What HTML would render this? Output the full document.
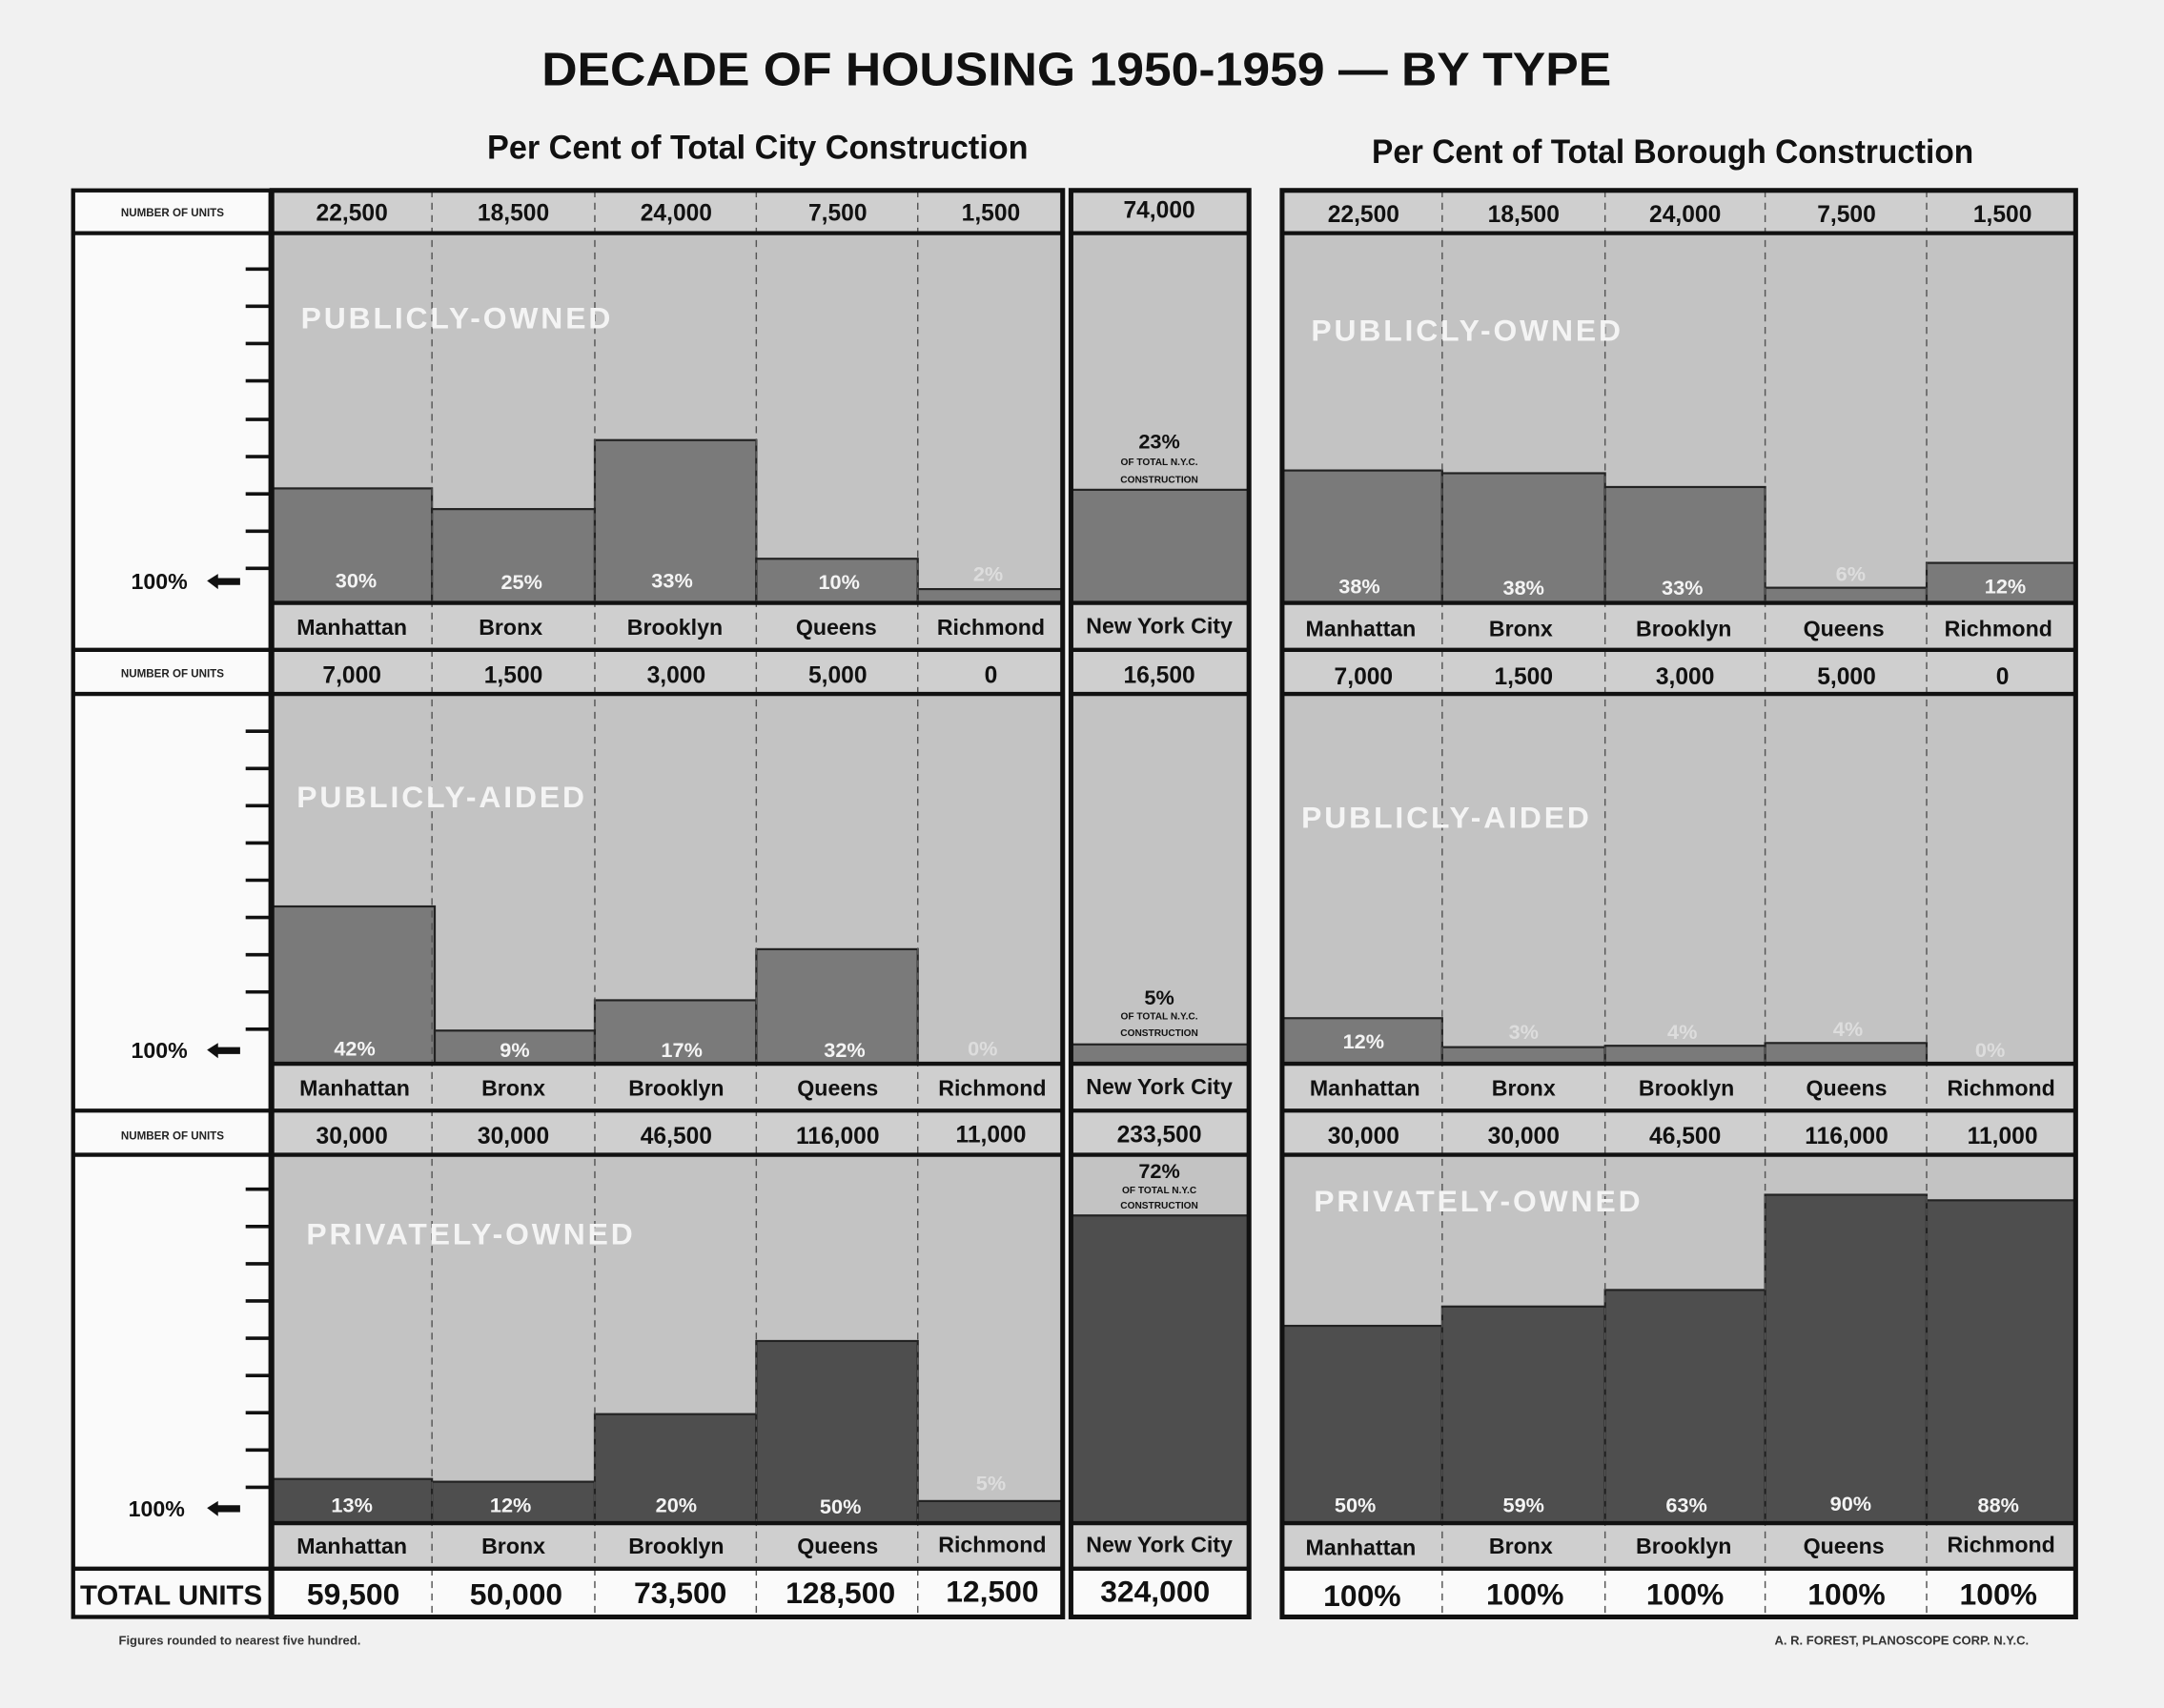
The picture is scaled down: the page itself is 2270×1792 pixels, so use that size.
<!DOCTYPE html>
<html><head><meta charset="utf-8"><style>
html,body{margin:0;padding:0;background:#f0f0f0;}
svg{display:block;}
text{font-family:"Liberation Sans",sans-serif;font-weight:bold;}
</style></head><body>
<svg width="2270" height="1792" viewBox="0 0 1568 1238" preserveAspectRatio="none" xmlns="http://www.w3.org/2000/svg">
<rect width="1568" height="1238" fill="#f1f1f1"/>
<text x="780" y="62" font-size="34" text-anchor="middle" fill="#111" textLength="775" lengthAdjust="spacingAndGlyphs">DECADE OF HOUSING 1950-1959 — BY TYPE</text>
<text x="549" y="115" font-size="24" text-anchor="middle" fill="#111" textLength="392" lengthAdjust="spacingAndGlyphs">Per Cent of Total City Construction</text>
<text x="1212" y="118" font-size="24" text-anchor="middle" fill="#111" textLength="436" lengthAdjust="spacingAndGlyphs">Per Cent of Total Borough Construction</text>

<!-- left label column -->
<rect x="53" y="138" width="143" height="1034" fill="#fafafa" stroke="#111" stroke-width="3"/>
<g stroke="#111" stroke-width="3">
<line x1="53" y1="169" x2="196" y2="169"/><line x1="53" y1="471" x2="196" y2="471"/>
<line x1="53" y1="503" x2="196" y2="503"/><line x1="53" y1="805" x2="196" y2="805"/>
<line x1="53" y1="837" x2="196" y2="837"/><line x1="53" y1="1137" x2="196" y2="1137"/>
</g>
<g font-size="8" fill="#222" text-anchor="middle">
<text x="125" y="157">NUMBER OF UNITS</text><text x="125" y="491">NUMBER OF UNITS</text><text x="125" y="826">NUMBER OF UNITS</text>
</g>
<g stroke="#111" stroke-width="2.5">
<path d="M178 195h18M178 222h18M178 249h18M178 276h18M178 304h18M178 331h18M178 358h18M178 385h18M178 412h18"/>
<path d="M178 530h18M178 557h18M178 584h18M178 611h18M178 638h18M178 665h18M178 692h18M178 719h18M178 746h18"/>
<path d="M178 862h18M178 889h18M178 916h18M178 943h18M178 970h18M178 997h18M178 1024h18M178 1051h18M178 1078h18"/>
</g>
<g font-size="16" fill="#111">
<text x="95" y="427">100%</text><text x="95" y="767">100%</text><text x="93" y="1099">100%</text>
</g>
<g fill="#111">
<path d="M150 421l8-5v3h16v5h-16v3z"/><path d="M150 761l8-5v3h16v5h-16v3z"/><path d="M150 1093l8-5v3h16v5h-16v3z"/>
</g>
<text x="124" y="1163" font-size="20" text-anchor="middle" fill="#111" textLength="132" lengthAdjust="spacingAndGlyphs">TOTAL UNITS</text>

<!-- blocks -->
<g id="blocks">
<!-- left boroughs block background -->
<rect x="197" y="138" width="573" height="1034" fill="#c3c3c3"/>
<rect x="776" y="138" width="129" height="1034" fill="#c3c3c3"/>
<rect x="929" y="138" width="575" height="1034" fill="#c3c3c3"/>
<!-- number rows & label rows lighter -->
<g fill="#cfcfcf">
<rect x="197" y="138" width="573" height="31"/><rect x="776" y="138" width="129" height="31"/><rect x="929" y="138" width="575" height="31"/>
<rect x="197" y="437" width="573" height="34"/><rect x="776" y="437" width="129" height="34"/><rect x="929" y="437" width="575" height="34"/>
<rect x="197" y="471" width="573" height="32"/><rect x="776" y="471" width="129" height="32"/><rect x="929" y="471" width="575" height="32"/>
<rect x="197" y="771" width="573" height="34"/><rect x="776" y="771" width="129" height="34"/><rect x="929" y="771" width="575" height="34"/>
<rect x="197" y="805" width="573" height="32"/><rect x="776" y="805" width="129" height="32"/><rect x="929" y="805" width="575" height="32"/>
<rect x="197" y="1104" width="573" height="33"/><rect x="776" y="1104" width="129" height="33"/><rect x="929" y="1104" width="575" height="33"/>
</g>
<g fill="#fafafa">
<rect x="197" y="1137" width="573" height="35"/><rect x="776" y="1137" width="129" height="35"/><rect x="929" y="1137" width="575" height="35"/>
</g>
<!-- row1 bars -->
<g fill="#7a7a7a" stroke="#222" stroke-width="1.5">
<rect x="197" y="354" width="116" height="83"/><rect x="313" y="369" width="118" height="68"/><rect x="431" y="319" width="117" height="118"/><rect x="548" y="405" width="117" height="32"/><rect x="665" y="427" width="105" height="10"/>
<rect x="776" y="355" width="129" height="82"/>
<rect x="929" y="341" width="116" height="96"/><rect x="1045" y="343" width="118" height="94"/><rect x="1163" y="353" width="116" height="84"/><rect x="1279" y="426" width="117" height="11"/><rect x="1396" y="408" width="108" height="29"/>
<!-- row2 -->
<rect x="197" y="657" width="118" height="114"/><rect x="315" y="747" width="116" height="24"/><rect x="431" y="725" width="117" height="46"/><rect x="548" y="688" width="117" height="83"/>
<rect x="776" y="757" width="129" height="14"/>
<rect x="929" y="738" width="116" height="33"/><rect x="1045" y="759" width="118" height="12"/><rect x="1163" y="758" width="116" height="13"/><rect x="1279" y="756" width="117" height="15"/>
</g>
<g fill="#4e4e4e" stroke="#222" stroke-width="1.5">
<rect x="197" y="1072" width="116" height="32"/><rect x="313" y="1074" width="118" height="30"/><rect x="431" y="1025" width="117" height="79"/><rect x="548" y="972" width="117" height="132"/><rect x="665" y="1088" width="105" height="16"/>
<rect x="776" y="881" width="129" height="223"/>
<rect x="929" y="961" width="116" height="143"/><rect x="1045" y="947" width="118" height="157"/><rect x="1163" y="935" width="116" height="169"/><rect x="1279" y="866" width="117" height="238"/><rect x="1396" y="870" width="108" height="234"/>
</g>
<!-- dashed column dividers -->
<g stroke="#555" stroke-width="1" stroke-dasharray="5,4">
<path d="M313 138V1172M431 138V1172M548 138V1172M665 138V1172"/>
<path d="M1045 138V1172M1163 138V1172M1279 138V1172M1396 138V1172"/>
</g>
<!-- horizontal lines -->
<g stroke="#111" stroke-width="3">
<path d="M197 169H770M776 169H905M929 169H1504"/>
<path d="M197 437H770M776 437H905M929 437H1504"/>
<path d="M197 471H770M776 471H905M929 471H1504"/>
<path d="M197 503H770M776 503H905M929 503H1504"/>
<path d="M197 771H770M776 771H905M929 771H1504"/>
<path d="M197 805H770M776 805H905M929 805H1504"/>
<path d="M197 837H770M776 837H905M929 837H1504"/>
<path d="M197 1104H770M776 1104H905M929 1104H1504"/>
<path d="M197 1137H770M776 1137H905M929 1137H1504"/>
</g>
<g fill="none" stroke="#111" stroke-width="3.5">
<rect x="197" y="138" width="573" height="1034"/><rect x="776" y="138" width="129" height="1034"/><rect x="929" y="138" width="575" height="1034"/>
</g>
</g>

<!-- number rows text -->
<g font-size="17" fill="#111" text-anchor="middle">
<text x="255" y="160">22,500</text><text x="372" y="160">18,500</text><text x="490" y="160">24,000</text><text x="607" y="160">7,500</text><text x="718" y="160">1,500</text><text x="840" y="158">74,000</text>
<text x="988" y="161">22,500</text><text x="1104" y="161">18,500</text><text x="1221" y="161">24,000</text><text x="1338" y="161">7,500</text><text x="1451" y="161">1,500</text>
<text x="255" y="495">7,000</text><text x="372" y="495">1,500</text><text x="490" y="495">3,000</text><text x="607" y="495">5,000</text><text x="718" y="495">0</text><text x="840" y="495">16,500</text>
<text x="988" y="496">7,000</text><text x="1104" y="496">1,500</text><text x="1221" y="496">3,000</text><text x="1338" y="496">5,000</text><text x="1451" y="496">0</text>
<text x="255" y="829">30,000</text><text x="372" y="829">30,000</text><text x="490" y="829">46,500</text><text x="607" y="829">116,000</text><text x="718" y="828">11,000</text><text x="840" y="828">233,500</text>
<text x="988" y="829">30,000</text><text x="1104" y="829">30,000</text><text x="1221" y="829">46,500</text><text x="1338" y="829">116,000</text><text x="1451" y="829">11,000</text>
</g>
<!-- label rows -->
<g font-size="16" fill="#111" text-anchor="middle">
<g id="lab1">
<text x="255" y="460">Manhattan</text><text x="370" y="460">Bronx</text><text x="489" y="460">Brooklyn</text><text x="606" y="460">Queens</text><text x="718" y="460">Richmond</text><text x="840" y="459">New York City</text>
<text x="986" y="461">Manhattan</text><text x="1102" y="461">Bronx</text><text x="1220" y="461">Brooklyn</text><text x="1336" y="461">Queens</text><text x="1448" y="461">Richmond</text>
</g>
<text x="257" y="794">Manhattan</text><text x="372" y="794">Bronx</text><text x="490" y="794">Brooklyn</text><text x="607" y="794">Queens</text><text x="719" y="794">Richmond</text><text x="840" y="793">New York City</text>
<text x="989" y="794">Manhattan</text><text x="1104" y="794">Bronx</text><text x="1222" y="794">Brooklyn</text><text x="1338" y="794">Queens</text><text x="1450" y="794">Richmond</text>
<text x="255" y="1126">Manhattan</text><text x="372" y="1126">Bronx</text><text x="490" y="1126">Brooklyn</text><text x="607" y="1126">Queens</text><text x="719" y="1125">Richmond</text><text x="840" y="1125">New York City</text>
<text x="986" y="1127">Manhattan</text><text x="1102" y="1126">Bronx</text><text x="1220" y="1126">Brooklyn</text><text x="1336" y="1126">Queens</text><text x="1450" y="1125">Richmond</text>
</g>
<!-- totals -->
<g font-size="22" fill="#111" text-anchor="middle" font-weight="normal">
<text x="256" y="1163">59,500</text><text x="374" y="1163">50,000</text><text x="493" y="1162">73,500</text><text x="609" y="1162">128,500</text><text x="719" y="1161">12,500</text><text x="837" y="1161">324,000</text>
<text x="987" y="1164">100%</text><text x="1105" y="1163">100%</text><text x="1221" y="1163">100%</text><text x="1338" y="1163">100%</text><text x="1448" y="1163">100%</text>
</g>
<!-- percent labels -->
<g font-size="15" fill="#f4f4f4" text-anchor="middle">
<text x="258" y="426">30%</text><text x="378" y="427">25%</text><text x="487" y="426">33%</text><text x="608" y="427">10%</text><text x="716" y="421" fill="#ddd">2%</text>
<text x="985" y="430">38%</text><text x="1104" y="431">38%</text><text x="1219" y="431">33%</text><text x="1341" y="421" fill="#ddd">6%</text><text x="1453" y="430">12%</text>
<text x="257" y="765">42%</text><text x="373" y="766">9%</text><text x="494" y="766">17%</text><text x="612" y="766">32%</text><text x="712" y="765" fill="#ddd">0%</text>
<text x="988" y="760">12%</text><text x="1104" y="753" fill="#ddd">3%</text><text x="1219" y="753" fill="#ddd">4%</text><text x="1339" y="751" fill="#ddd">4%</text><text x="1442" y="766" fill="#ddd">0%</text>
<text x="255" y="1096">13%</text><text x="370" y="1096">12%</text><text x="490" y="1096">20%</text><text x="609" y="1097">50%</text><text x="718" y="1080" fill="#ddd">5%</text>
<text x="982" y="1096">50%</text><text x="1104" y="1096">59%</text><text x="1222" y="1096">63%</text><text x="1341" y="1095">90%</text><text x="1448" y="1096">88%</text>
</g>
<!-- NYC annotations -->
<g fill="#111" text-anchor="middle">
<text x="840" y="325" font-size="15">23%</text><text x="840" y="337" font-size="7" font-weight="normal">OF TOTAL N.Y.C.</text><text x="840" y="350" font-size="7" font-weight="normal">CONSTRUCTION</text>
<text x="840" y="728" font-size="15">5%</text><text x="840" y="739" font-size="7" font-weight="normal">OF TOTAL N.Y.C.</text><text x="840" y="751" font-size="7" font-weight="normal">CONSTRUCTION</text>
<text x="840" y="854" font-size="15">72%</text><text x="840" y="865" font-size="7" font-weight="normal">OF TOTAL N.Y.C</text><text x="840" y="876" font-size="7" font-weight="normal">CONSTRUCTION</text>
</g>
<!-- section titles -->
<g font-size="22" fill="#f4f4f4" letter-spacing="2">
<text x="218" y="238">PUBLICLY-OWNED</text><text x="950" y="247">PUBLICLY-OWNED</text>
<text x="215" y="585">PUBLICLY-AIDED</text><text x="943" y="600">PUBLICLY-AIDED</text>
<text x="222" y="902">PRIVATELY-OWNED</text><text x="952" y="878">PRIVATELY-OWNED</text>
</g>
<text x="86" y="1192" font-size="9" fill="#333" font-weight="normal">Figures rounded to nearest five hundred.</text>
<text x="1470" y="1192" font-size="9" fill="#333" font-weight="normal" text-anchor="end">A. R. FOREST, PLANOSCOPE CORP. N.Y.C.</text>
</svg>
</body></html>
